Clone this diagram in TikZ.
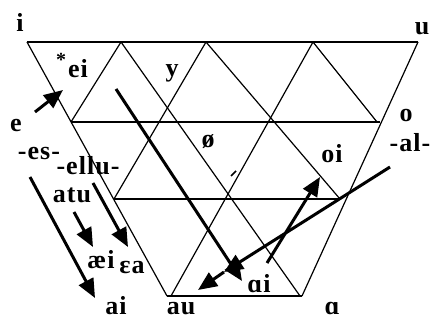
\documentclass[tikz,border=0pt]{standalone}
\usepackage{fontspec}
\setmainfont{Liberation Serif}
\newfontfamily\lblfont{Liberation Serif}[LetterSpace=4]
\usetikzlibrary{arrows.meta}
\begin{document}
\begin{tikzpicture}[x=1pt,y=-1pt,
  gridline/.style={line width=1.2pt},
  bigarrow/.style={line width=3pt,-{Triangle[length=19pt,width=16pt]}},
  lbl/.style={font=\lblfont\bfseries\fontsize{26}{26}\selectfont,anchor=base,inner sep=0pt},
  star/.style={font=\bfseries\fontsize{20}{20}\selectfont,anchor=base,inner sep=0pt}]
\useasboundingbox (0,0) rectangle (430,320);
% lattice vertices
\coordinate (T0) at (27,42);
\coordinate (T1) at (121,42);
\coordinate (T2) at (206,42);
\coordinate (T3) at (313,42);
\coordinate (T4) at (418,42);
\coordinate (M0) at (71,122);
\coordinate (M4) at (380,122);
\coordinate (L3e) at (377,122);
\coordinate (N0) at (114,199);
\coordinate (N4) at (340,199);
\coordinate (B0) at (167,296);
\coordinate (Ce) at (171,296);
\coordinate (L1e) at (300,296);
\coordinate (B4) at (302,296);
% horizontals
\draw[gridline] (T0) -- (T4);
\draw[gridline] (M0) -- (M4);
\draw[gridline] (N0) -- (N4);
\draw[gridline] (B0) -- (B4);
% edges
\draw[gridline] (T0) -- (B0);
\draw[gridline] (T4) -- (B4);
% down-right lines
\draw[gridline] (T1) -- (L1e);
\draw[gridline] (T2) -- (N4);
\draw[gridline] (T3) -- (L3e);
% down-left lines
\draw[gridline] (T1) -- (M0);
\draw[gridline] (T2) -- (N0);
\draw[gridline] (T3) -- (Ce);
% small tick
\coordinate (k1) at (231,176);
\coordinate (k2) at (236,171);
\draw[line width=1.5pt] (k1) -- (k2);
% labels
\node[lbl] (li) at (20,32) {i};
\node[lbl] (lu) at (422,35) {u};
\node[star] (ls) at (61,67) {*};
\node[lbl] (lei) at (78,78) {ei};
\node[lbl] (ly) at (172,77) {y};
\node[lbl] (le) at (16,132) {e};
\node[lbl] (les) at (39,160) {-es-};
\node[lbl] (lellu) at (88,175) {-ellu-};
\node[lbl] (latu) at (72,202) {atu};
\node[lbl] (lae) at (101,268) {æi};
\node[lbl] (lea) at (132,273) {ɛa};
\node[lbl] (lai) at (116,314) {ai};
\node[lbl] (lau) at (181,314) {au};
\node[lbl] (lalphai) at (259,292) {ɑi};
\node[lbl] (lalpha) at (332,314) {ɑ};
\node[lbl] (lo) at (406,122) {o};
\node[lbl] (lal) at (410,152) {-al-};
\node[lbl] (loi) at (332,163) {oi};
\node[lbl] (loe) at (208,148) {ø};
% arrow end points
\coordinate (a1s) at (35,112);
\coordinate (a1e) at (63,90);
\coordinate (a2s) at (30,177);
\coordinate (a2e) at (95,298);
\coordinate (a3s) at (74,212);
\coordinate (a3e) at (93,247);
\coordinate (a4s) at (93,183);
\coordinate (a4e) at (128,247);
\coordinate (a5s) at (116,89);
\coordinate (a5e) at (242,281);
\coordinate (a6s) at (390,167);
\coordinate (a6m) at (224,272);
\coordinate (a6e) at (198,290);
\coordinate (a7s) at (267,263);
\coordinate (a7e) at (320,177);
\draw[bigarrow] (a1s) -- (a1e);
\draw[bigarrow] (a2s) -- (a2e);
\draw[bigarrow] (a3s) -- (a3e);
\draw[bigarrow] (a4s) -- (a4e);
\draw[bigarrow] (a5s) -- (a5e);
\draw[bigarrow] (a6s) -- (a6m);
\draw[bigarrow] (a6m) -- (a6e);
\draw[bigarrow] (a7s) -- (a7e);
\end{tikzpicture}
\end{document}
